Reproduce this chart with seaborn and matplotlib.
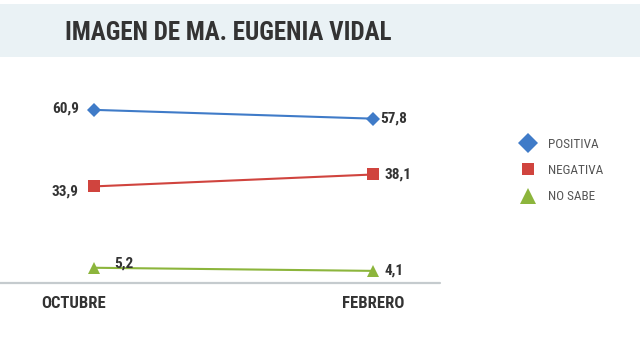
import matplotlib
matplotlib.use("Agg")
import matplotlib.pyplot as plt
from matplotlib.lines import Line2D
from matplotlib.patches import Rectangle
import seaborn as sns
import pandas as pd
from matplotlib import font_manager

sns.set_style("white")
names = {f.name for f in font_manager.fontManager.ttflist}
FONT = "DejaVu Sans"
for cand in ["Roboto Condensed", "Fira Sans Condensed", "Barlow Semi Condensed", "Barlow Condensed"]:
    if cand in names:
        FONT = cand
        break
plt.rcParams['font.family'] = [FONT, 'DejaVu Sans']

title = "IMAGEN DE MA. EUGENIA VIDAL"
months = ["OCTUBRE", "FEBRERO"]
series = ["POSITIVA", "NEGATIVA", "NO SABE"]
positiva = [60.9, 57.8]
negativa = [33.9, 38.1]
no_sabe = [5.2, 4.1]

colors = {"POSITIVA": "#3f7bc8", "NEGATIVA": "#d0443e", "NO SABE": "#8cb53c"}
markers = {"POSITIVA": "D", "NEGATIVA": "s", "NO SABE": "^"}

rows = []
for name, vals in zip(series, [positiva, negativa, no_sabe]):
    for i, v in enumerate(vals):
        rows.append({"x": i, "mes": months[i], "serie": name, "valor": v})
df = pd.DataFrame(rows)

fig = plt.figure(figsize=(6.4, 3.45), dpi=100)
W, H = 640, 345
fig.patches.append(Rectangle((0, 1 - 57 / H), 1, 53 / H, transform=fig.transFigure,
                             facecolor="#eaf2f5", edgecolor="none", zorder=0))
fig.text(65 / W, 1 - 40 / H, title, fontsize=18, fontweight="bold", color="#333333",
         va="baseline", ha="left")

ax = fig.add_axes([0, 1 - 282.5 / H, 440 / W, 195.6 / H])
ax.set_facecolor("none")
sns.lineplot(data=df, x="x", y="valor", hue="serie", style="serie", markers=markers,
             dashes=False, palette=colors, ax=ax, legend=False, linewidth=1.5,
             markersize=8, markeredgewidth=0)
for ln, ms in zip(ax.lines, [7, 8, 8.5]):
    ln.set_markersize(ms)
ax.set_xlim(-94 / 279, 1 + 67 / 279)
ax.set_ylim(0, 69)
for s in ax.spines.values():
    s.set_visible(False)
ax.axhline(0, color="#c5cbce", linewidth=1.6, clip_on=False)
ax.set_xticks([])
ax.set_yticks([])
ax.set_xlabel("")
ax.set_ylabel("")

lab = dict(fontsize=11, fontweight="bold", color="#333333", textcoords="offset points")
def fmt(v):
    return f"{v:.1f}".replace(".", ",")
ax.annotate(fmt(positiva[0]), (0, positiva[0]), xytext=(-10.5, 1), ha="right", va="center", **lab)
ax.annotate(fmt(positiva[1]), (1, positiva[1]), xytext=(5, 0), ha="left", va="center", **lab)
ax.annotate(fmt(negativa[0]), (0, negativa[0]), xytext=(-11.5, -4), ha="right", va="center", **lab)
ax.annotate(fmt(negativa[1]), (1, negativa[1]), xytext=(8, 0), ha="left", va="center", **lab)
ax.annotate(fmt(no_sabe[0]), (0, no_sabe[0]), xytext=(14.5, 3), ha="left", va="center", **lab)
ax.annotate(fmt(no_sabe[1]), (1, no_sabe[1]), xytext=(8, 0), ha="left", va="center", **lab)

ax.annotate(months[0], (0, 0), xytext=(-14.6, -15), ha="center", va="center",
            fontsize=12, fontweight="bold", color="#333333", textcoords="offset points",
            annotation_clip=False)
ax.annotate(months[1], (1, 0), xytext=(0, -15), ha="center", va="center",
            fontsize=12, fontweight="bold", color="#333333", textcoords="offset points",
            annotation_clip=False)

leg_sizes = {"POSITIVA": 10.5, "NEGATIVA": 8, "NO SABE": 12}
handles = [Line2D([], [], linestyle="none", marker=markers[s], color=colors[s],
                  markersize=leg_sizes[s], markeredgewidth=0) for s in series]
fig.legend(handles, series, loc="center left", bbox_to_anchor=(506 / W, 1 - 170.5 / H),
           frameon=False, fontsize=9.5, labelcolor="#555555", handletextpad=0.8,
           labelspacing=1.0, handlelength=1.5)

fig.savefig("out.png", dpi=100)
